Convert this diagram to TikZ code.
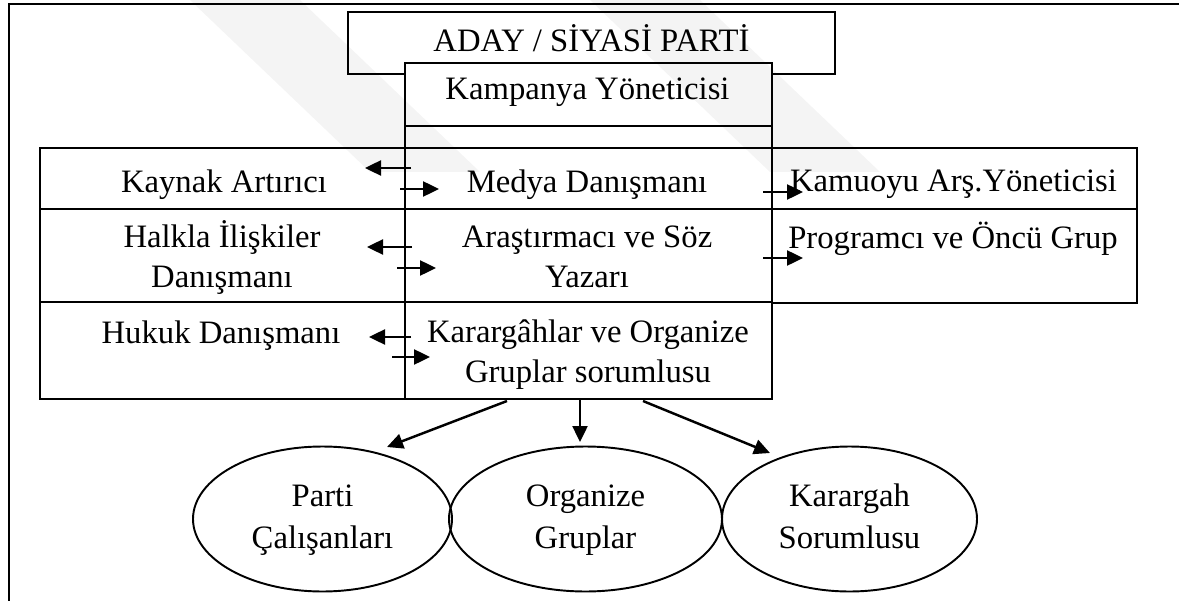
\documentclass[tikz,border=0pt]{standalone}
\usepackage{fontspec}
\setmainfont{Liberation Serif}
\usepackage{tikz}
\usetikzlibrary{positioning}
\usetikzlibrary{arrows.meta,shapes}
\usetikzlibrary{calc}
\tikzstyle{cell}=[rectangle,draw=black,line width=1.3pt,inner sep=0pt]
\tikzstyle{oval}=[ellipse,draw=black,line width=1.1pt,inner sep=0pt,align=center,font=\fontsize{18.6}{23.9}\selectfont]
\tikzstyle{lbl}=[anchor=base,inner sep=0pt,align=center,font=\fontsize{18.6}{22.2}\selectfont]
\tikzstyle{edge}=[draw,line width=1.4pt,-{Triangle[length=0.32cm,width=0.3cm]}]
\tikzstyle{frame}=[draw,line width=1.7pt]
\tikzstyle{wmark}=[fill=black,fill opacity=0.045]

\begin{document}
\begin{tikzpicture}[x=0.02cm,y=-0.02cm]
    \useasboundingbox (0,0) rectangle (1179,601);
    % page frame
    \draw[frame] (9,601) -- (9,4) -- (1179,4);

    % First we draw the cells
    \foreach \pos/\name/\w/\h in {{(591.5,43)/party/487/62}, {(588.5,137)/gap/367/22},
        {(222.5,178.5)/kaynak/365/61}, {(588.5,178.5)/medya/367/61}, {(954.5,178.5)/kamuoyu/365/61},
        {(222.5,255.5)/halkla/365/93}, {(588.5,255.5)/arastirma/367/93}, {(954.5,256)/programci/365/94},
        {(222.5,350.5)/hukuk/365/97}, {(588.5,350.5)/karargah/367/97}}
        \node[cell, minimum width=\w*0.02cm, minimum height=\h*0.02cm] (\name) at \pos {};
    \node[cell, fill=white, minimum width=7.34cm, minimum height=1.26cm] (manager) at (588.5,94.5) {};

    % texts of the cells (base = last line)
    \foreach \pos/\name/\txt in {{(591.5,52)/lParty/{ADAY / SİYASİ PARTİ}}, {(587.5,100)/lManager/{Kampanya Yöneticisi}},
        {(224,193)/lKaynak/{Kaynak Artırıcı}}, {(587,193)/lMedya/{Medya Danışmanı}}, {(953.5,192)/lKamuoyu/{Kamuoyu Arş.Yöneticisi}},
        {(222,287)/lHalkla/{Halkla İlişkiler\\Danışmanı}}, {(587,287)/lArastirma/{Araştırmacı ve Söz\\Yazarı}}, {(953,248)/lProgramci/{Programcı ve Öncü Grup}},
        {(221,343)/lHukuk/{Hukuk Danışmanı}}, {(588,382)/lKarargah/{Karargâhlar ve Organize\\Gruplar sorumlusu}}}
        \node[lbl] (\name) at \pos {\txt};

    % the three groups
    \foreach \pos/\name/\w/\txt in {{(322.5,519)/parti/259/{Parti\\Çalışanları}}, {(585.5,519)/organize/273/{Organize\\Gruplar}},
        {(849.5,519)/karargahS/255/{Karargah\\Sorumlusu}}}
        \node[oval, minimum width=\w*0.02cm, minimum height=2.9cm] (\name) at \pos {\strut\txt\strut};

    % ends of the arrows
    \foreach \pos/\name in {{(411,168)/a1}, {(365,168)/b1}, {(400,189)/a2}, {(439,189)/b2},
        {(412,247)/a3}, {(367,247)/b3}, {(397,268)/a4}, {(436,268)/b4},
        {(411,337)/a5}, {(369,337)/b5}, {(392,357)/a6}, {(430,357)/b6},
        {(763,192)/a7}, {(803,192)/b7}, {(763,258)/a8}, {(803,258)/b8},
        {(507,401)/a9}, {(387,447)/b9}, {(580,399)/a10}, {(580,442)/b10}, {(643,401)/a11}, {(770,453)/b11}}
        \path \pos coordinate (\name);

    % Connect with arrows
    \foreach \source/\dest in {a1/b1, a2/b2, a3/b3, a4/b4, a5/b5, a6/b6, a7/b7, a8/b8, a9/b9, a10/b10, a11/b11}
        \path[edge] (\source) -- (\dest);

    % faint watermark
    \fill[wmark] (190,0) -- (300,0) -- (480,172) -- (370,172) -- cycle;
    \fill[wmark] (590,0) -- (700,0) -- (880,172) -- (770,172) -- cycle;
\end{tikzpicture}
\end{document}
